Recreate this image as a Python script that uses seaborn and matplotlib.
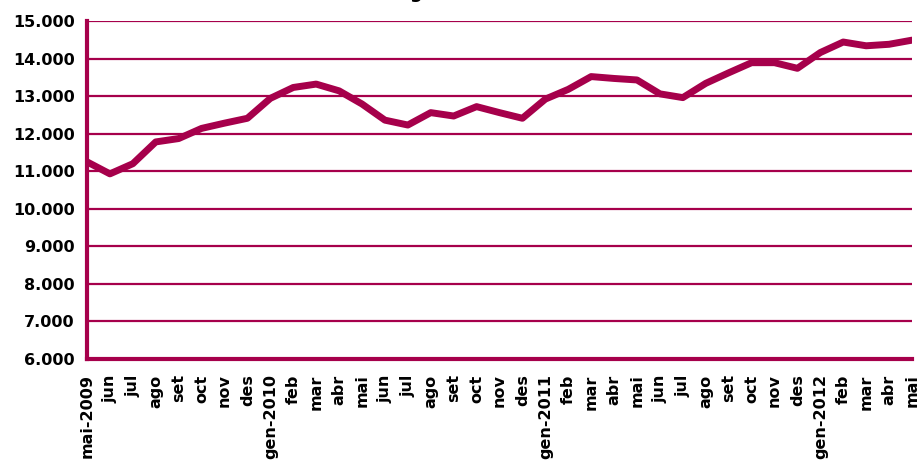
import matplotlib
matplotlib.use("Agg")
import matplotlib.pyplot as plt
import matplotlib.ticker as mticker
import pandas as pd
import seaborn as sb

sb.set_style("white")
plt.rcParams['font.family'] = ['DejaVu Sans']
plt.rcParams['text.color'] = 'black'
plt.rcParams['xtick.labelcolor'] = 'black'
plt.rcParams['ytick.labelcolor'] = 'black'

months = ['mai-2009', 'jun', 'jul', 'ago', 'set', 'oct', 'nov', 'des',
          'gen-2010', 'feb', 'mar', 'abr', 'mai', 'jun', 'jul', 'ago', 'set', 'oct', 'nov', 'des',
          'gen-2011', 'feb', 'mar', 'abr', 'mai', 'jun', 'jul', 'ago', 'set', 'oct', 'nov', 'des',
          'gen-2012', 'feb', 'mar', 'abr', 'mai']
atur = [11250, 10930, 11200, 11780, 11870, 12140, 12280, 12410,
        12940, 13230, 13320, 13140, 12790, 12360, 12230, 12560, 12470, 12720, 12560, 12410,
        12920, 13180, 13520, 13470, 13430, 13060, 12960, 13340, 13620, 13890, 13890, 13740,
        14160, 14440, 14340, 14380, 14490]

col = '#A6004B'
df = pd.DataFrame({'pos': range(len(months)), 'atur': atur})

fig = plt.figure(figsize=(9.17, 4.66), dpi=100)
ax = fig.add_axes([87/917, 1-359/466, 825/917, 338/466])

for v in range(7000, 15001, 1000):
    ax.axhline(v, color=col, lw=1.6, zorder=1)

sb.lineplot(data=df, x='pos', y='atur', color=col, lw=5, ax=ax, zorder=3)

ax.set_xlim(0, len(months)-1)
ax.set_ylim(6000, 15000)
ax.set_xticks(range(len(months)))
ax.set_xticklabels(months, rotation=90, fontsize=11.5, fontweight='bold', color='black')
ax.yaxis.set_major_locator(mticker.MultipleLocator(1000))
ax.yaxis.set_major_formatter(mticker.FuncFormatter(lambda v, p: f'{int(v):,}'.replace(',', '.')))
for t in ax.get_yticklabels():
    t.set_fontsize(11.5)
    t.set_fontweight('bold')
    t.set_color('black')
ax.set_xlabel('')
ax.set_ylabel('')

for s in ['top', 'right']:
    ax.spines[s].set_visible(False)
for s in ['left', 'bottom']:
    ax.spines[s].set_color(col)
    ax.spines[s].set_linewidth(3)
    ax.spines[s].set_zorder(4)
ax.tick_params(axis='x', direction='out', color=col, width=3, length=5, pad=6)
ax.tick_params(axis='y', direction='out', color=col, width=2, length=5, pad=4)

fig.text(0.5, 1 + 1.5/466, "Evolució de l'atur registrat a Mataró i el Maresme",
         ha='center', va='baseline', fontsize=13, fontweight='bold', color='black')

fig.savefig('out.png', dpi=100)
